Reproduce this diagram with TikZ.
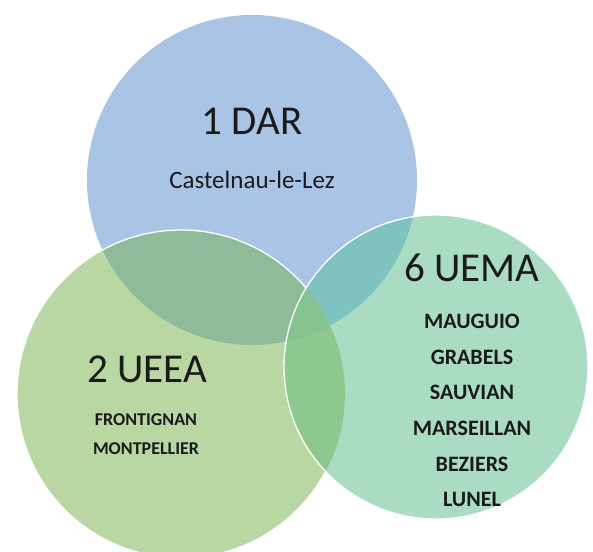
\documentclass[tikz,border=0pt]{standalone}
\usepackage{fontspec}
\setmainfont{Carlito}
\definecolor{cBlue}{HTML}{AAC4E6}
\definecolor{cLeft}{HTML}{B8D7A2}
\definecolor{cRight}{HTML}{AADCC4}
\definecolor{cBL}{HTML}{8FBB98}
\definecolor{cBR}{HTML}{7EC3BF}
\definecolor{cLR}{HTML}{8DC98E}
\definecolor{cBLR}{HTML}{84C28F}
\definecolor{cText}{HTML}{1A1A1A}
\tikzset{
  head/.style={font=\fontsize{41}{44}\selectfont, text=cText, inner sep=0pt},
  sub/.style={font=\fontsize{25}{28}\selectfont, text=cText, inner sep=0pt},
  lsmall/.style={font=\bfseries\fontsize{18}{20}\selectfont, text=cText, inner sep=0pt},
  lbig/.style={font=\bfseries\fontsize{22}{24}\selectfont, text=cText, inner sep=0pt},
  rim/.style={draw=white, line width=1.3pt}
}
\begin{document}
\begin{tikzpicture}[x=1pt,y=-1pt]
\useasboundingbox (0,0) rectangle (593,551);
\begin{scope}
\clip (0,0) rectangle (593,551);
% circles
\def\blue{(252,180) circle (165)}
\def\left{(181,394) circle (164)}
\def\right{(436,367) circle (152)}
\fill[cBlue] \blue;
\fill[cLeft] \left;
\begin{scope}\clip \blue; \fill[cBL] \left; \end{scope}
\draw[rim] \left;
\fill[cRight] \right;
\begin{scope}\clip \right; \fill[cBR] \blue; \end{scope}
\begin{scope}\clip \right; \fill[cLR] \left; \end{scope}
\begin{scope}\clip \right; \clip \left; \fill[cBLR] \blue; \end{scope}
\draw[rim] \right;
\end{scope}
% texts
\node[head] (dar) at (252,121) {1 DAR};
\node[sub] (cast) at (252,180) {Castelnau-le-Lez};
\node[head] (ueea) at (147,369) {2 UEEA};
\node[lsmall] (fron) at (146,420) {FRONTIGNAN};
\node[lsmall] (mont) at (146,449) {MONTPELLIER};
\node[head] (uema) at (472,268) {6 UEMA};
\node[lbig] (maug) at (472,321) {MAUGUIO};
\node[lbig] (grab) at (472,357) {GRABELS};
\node[lbig] (sauv) at (472,392) {SAUVIAN};
\node[lbig] (mars) at (472,428) {MARSEILLAN};
\node[lbig] (bez) at (472,464) {BEZIERS};
\node[lbig] (lun) at (472,499) {LUNEL};
\end{tikzpicture}
\end{document}
